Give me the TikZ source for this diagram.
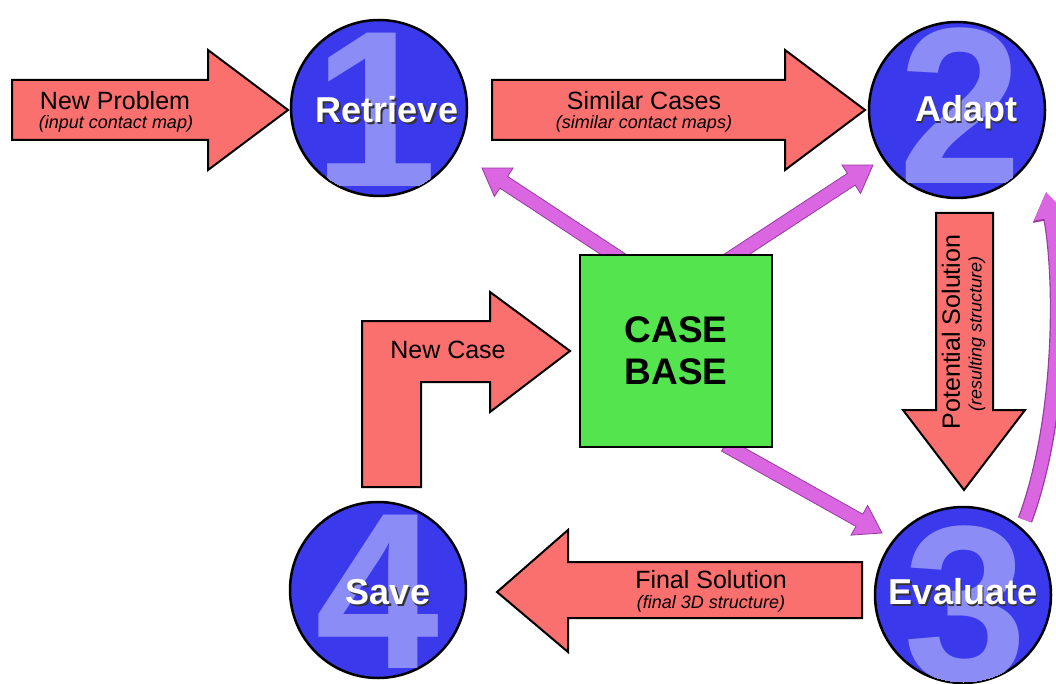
\documentclass[tikz,border=0pt]{standalone}
\usepackage{fontspec}
\setmainfont{Liberation Sans}
\usetikzlibrary{calc,arrows.meta}
\definecolor{cblue}{RGB}{58,58,236}
\definecolor{cdigit}{RGB}{140,140,246}
\definecolor{cred}{RGB}{250,112,110}
\definecolor{cgreen}{RGB}{84,228,78}
\definecolor{cpurp}{RGB}{218,102,226}
\definecolor{cpurpd}{RGB}{150,60,160}
\definecolor{cshadow}{RGB}{50,50,60}
\tikzset{
  redarrow/.style={fill=cred, draw=black, line width=2pt, line join=miter},
  stepcircle/.style={circle, fill=cblue, draw=black, line width=2.5pt, minimum size=176pt, inner sep=0pt},
  digit/.style={font=\fontsize{223}{223}\selectfont\bfseries, text=cdigit, inner sep=0pt},
  ttl/.style={font=\fontsize{25}{28}\selectfont, text=black, inner sep=0pt},
  subttl/.style={font=\fontsize{18}{22}\selectfont\itshape, text=black, inner sep=0pt},
  lbl/.style={font=\fontsize{36}{40}\selectfont\bfseries, inner sep=0pt},
  purparrow/.style={fill=cpurp, draw=cpurpd, line width=0.8pt, line join=miter},
}
\newcommand\mypurp[3]{%
  \coordinate (#1s) at #2; \coordinate (#1e) at #3;
  \coordinate (#1h) at ($(#1e)!26pt!(#1s)$);
  \path[purparrow] ($(#1s)!7pt!90:(#1e)$) -- ($(#1h)!7pt!90:(#1e)$) -- ($(#1h)!17pt!90:(#1e)$)
    -- (#1e) -- ($(#1h)!17pt!-90:(#1e)$) -- ($(#1h)!7pt!-90:(#1e)$) -- ($(#1s)!7pt!-90:(#1e)$) -- cycle;
}
\newcommand\mylabel[3]{%
  \node[lbl, text=cshadow] (#1sh) at ($#2+(1.8,1.8)$) {#3};
  \node[lbl, text=white] (#1) at #2 {#3};
}
\begin{document}
\begin{tikzpicture}[x=1pt,y=-1pt]
\useasboundingbox[fill=white] (0,0) rectangle (1056,684);

% purple arrows (behind)
\mypurp{pa}{(625,262)}{(482,168)}
\mypurp{pb}{(725,262)}{(873,165)}
\mypurp{pc}{(725,445)}{(882,533)}
\coordinate (pds) at (1025,520);
\coordinate (pde) at (1046,192);
\draw[cpurpd, line width=15pt, -{Triangle[width=35pt,length=28pt]}] (pds) .. controls (1062,420) and (1062,280) .. (pde);
\draw[cpurp, line width=12.5pt, -{Triangle[width=32pt,length=26pt]}] (pds) .. controls (1062,420) and (1062,280) .. (pde);

% case base
\node[draw=black, line width=2.5pt, fill=cgreen, minimum width=192pt, minimum height=192pt,
      font=\fontsize{37}{42}\selectfont\bfseries, align=center] (cb) at (676,351) {CASE\\BASE};

% circles
\node[stepcircle] (c1) at (379,108) {};
\node[stepcircle] (c2) at (957,110) {};
\node[stepcircle] (c3) at (963,595) {};
\node[stepcircle] (c4) at (378,590) {};
\begin{scope}\clip (c1.center) circle (87pt); \node[digit] (d1) at (376,110) {1};\end{scope}
\begin{scope}\clip (c2.center) circle (87pt); \node[digit] (d2) at (960,106) {2};\end{scope}
\begin{scope}\clip (c3.center) circle (87pt); \node[digit] (d3) at (965,605) {3};\end{scope}
\begin{scope}\clip (c4.center) circle (87pt); \node[digit] (d4) at (378,592) {4};\end{scope}
\mylabel{l1}{(387,110)}{Retrieve}
\mylabel{l2}{(966,112)}{Adapt}
\mylabel{l3}{(963,592)}{Evaluate}
\mylabel{l4}{(388,592)}{Save}

% red arrows
\path[redarrow] (12,80) -- (208,80) -- (208,50) -- (288,110) -- (208,170) -- (208,140) -- (12,140) -- cycle;
\node[ttl] (t1) at (115,101) {New Problem};
\node[subttl] (s1) at (116,124) {(input contact map)};

\path[redarrow] (492,80) -- (785,80) -- (785,50) -- (865,110) -- (785,170) -- (785,140) -- (492,140) -- cycle;
\node[ttl] (t2) at (644,101) {Similar Cases};
\node[subttl] (s2) at (644,124) {(similar contact maps)};

\path[redarrow] (936,213) -- (993,213) -- (993,410) -- (1025,410) -- (964,490) -- (903,410) -- (936,410) -- cycle;
\node[ttl, rotate=90] (t3) at (951,332) {Potential Solution};
\node[subttl, rotate=90] (s3) at (977,334) {(resulting structure)};

\path[redarrow] (862,562) -- (568,562) -- (568,530) -- (497,592) -- (568,652) -- (568,618) -- (862,618) -- cycle;
\node[ttl] (t4) at (711,580) {Final Solution};
\node[subttl] (s4) at (711,604) {(final 3D structure)};

\path[redarrow] (362,487) -- (362,321) -- (490,321) -- (490,292) -- (570,351) -- (490,412) -- (490,382) -- (421,382) -- (421,487) -- cycle;
\node[ttl] (t5) at (448,350) {New Case};
\end{tikzpicture}
\end{document}
